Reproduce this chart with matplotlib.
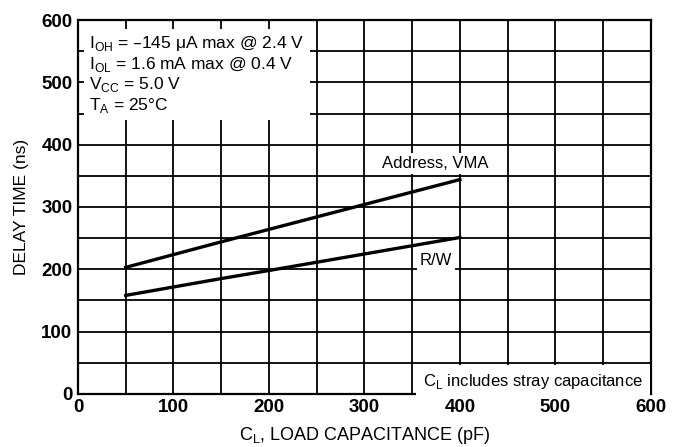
import matplotlib
matplotlib.use('Agg')
from matplotlib import pyplot as plt
from matplotlib.ticker import MultipleLocator

plt.rcParams['font.family'] = ['Liberation Sans', 'DejaVu Sans']

# load capacitance (pF) vs delay time (ns)
addrX = [50, 150, 400]
addrY = [203, 244, 344]
rwX = [50, 150, 200, 400]
rwY = [158, 185, 198, 251]

xTicks = [0, 100, 200, 300, 400, 500, 600]
yTicks = [0, 100, 200, 300, 400, 500, 600]

fig = plt.figure(figsize=(6.78, 4.47), dpi=100)
ax = fig.add_axes([0.115, 0.119, 0.845, 0.836])

ax.plot(addrX, addrY, color='black', linewidth=2.4, zorder=3)
ax.plot(rwX, rwY, color='black', linewidth=2.4, zorder=3)

ax.set_xlim(0, 600)
ax.set_ylim(0, 600)
ax.set_xticks(xTicks)
ax.set_yticks(yTicks)
ax.xaxis.set_minor_locator(MultipleLocator(50))
ax.yaxis.set_minor_locator(MultipleLocator(50))
ax.grid(which='both', color='black', linewidth=1.3)
ax.set_axisbelow(True)
ax.tick_params(which='both', length=0, labelsize=13.5, pad=4)
for lbl in ax.get_xticklabels() + ax.get_yticklabels():
    lbl.set_fontweight('bold')
for sp in ax.spines.values():
    sp.set_linewidth(1.6)

ax.set_xlabel('C$_\\mathregular{L}$, LOAD CAPACITANCE (pF)', fontsize=13, labelpad=6)
ax.set_ylabel('DELAY TIME (ns)', fontsize=12.5, labelpad=9)

box = dict(facecolor='white', edgecolor='none', pad=2)
ax.text(12, 577, 'I$_\\mathregular{OH}$ = \u2013145 \u03bcA max @ 2.4 V\n'
        'I$_\\mathregular{OL}$ = 1.6 mA max @ 0.4 V\n'
        'V$_\\mathregular{CC}$ = 5.0 V\n'
        'T$_\\mathregular{A}$ = 25\u00b0C',
        fontsize=12.5, va='top', ha='left', linespacing=1.1,
        bbox=dict(facecolor='white', edgecolor='none', pad=4), zorder=4)
ax.text(318, 370, 'Address, VMA', fontsize=12, va='center', ha='left', bbox=box, zorder=4)
ax.text(358, 214, 'R/W', fontsize=12, va='center', ha='left', bbox=box, zorder=4)
ax.text(592, 20, 'C$_\\mathregular{L}$ includes stray capacitance', fontsize=12,
        va='center', ha='right', bbox=dict(facecolor='white', edgecolor='none', pad=5), zorder=4)

fig.savefig('out.png', dpi=100)
